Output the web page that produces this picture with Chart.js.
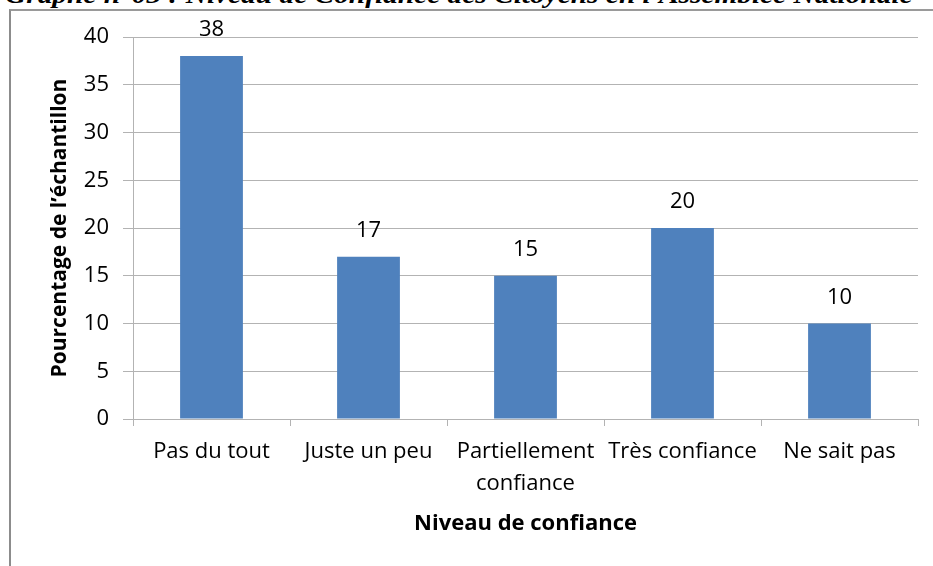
<!DOCTYPE html>
<html>
<head>
<meta charset="utf-8">
<script src="https://cdn.jsdelivr.net/npm/chart.js@4"></script>
<style>
  body { margin:0; background:#fff; width:933px; height:566px; overflow:hidden; position:relative; }
  #titre { position:absolute; left:5px; top:-19px; white-space:nowrap; transform:scaleX(1.175); transform-origin:left top;
           font: italic bold 25px "Liberation Serif", serif; color:#000; }
  #cadre { position:absolute; left:9px; top:9px; width:930px; height:570px;
           border-left:2px solid #8c8c8c; border-top:2px solid #9a9a9a; }
  #zone { position:absolute; left:0; top:0; width:933px; height:566px; }
</style>
</head>
<body>
<div id="titre">Graphe n°03 : Niveau de Confiance des Citoyens en l'Assemblée Nationale</div>
<div id="cadre"></div>
<div id="zone"><canvas id="graphe"></canvas></div>
<script>
// Données du graphique
const CATEGORIES = ['Pas du tout', 'Juste un peu', ['Partiellement', 'confiance'], 'Très confiance', 'Ne sait pas'];
const VALEURS    = [38, 17, 15, 20, 10];
const Y_MIN = 0, Y_MAX = 40, Y_PAS = 5;

const POLICE = '"Open Sans", "Liberation Sans", sans-serif';
const GRIS   = '#b3b3b3';

// Étiquettes de valeur au-dessus des barres
const etiquettes = {
  id: 'etiquettes',
  afterDatasetsDraw(chart) {
    const ctx = chart.ctx;
    const meta = chart.getDatasetMeta(0);
    ctx.save();
    ctx.font = '22px ' + POLICE;
    ctx.fillStyle = '#000';
    ctx.textAlign = 'center';
    ctx.textBaseline = 'middle';
    meta.data.forEach((bar, i) => {
      ctx.fillText(String(VALEURS[i]), bar.x, bar.y - 26);
    });
    ctx.restore();
  }
};

new Chart(document.getElementById('graphe'), {
  type: 'bar',
  data: {
    labels: CATEGORIES,
    datasets: [{ data: VALEURS, backgroundColor: '#4f81bd', barPercentage: 0.4, categoryPercentage: 1 }]
  },
  options: {
    responsive: true, maintainAspectRatio: false, animation: false,
    layout: { padding: { top: 37, right: 15, left: 11, bottom: 0 } },
    plugins: { legend: { display: false }, tooltip: { enabled: false } },
    scales: {
      x: {
        grid: { offset: true, drawOnChartArea: false, drawTicks: true, tickLength: 7, color: GRIS },
        border: { color: GRIS, width: 1 },
        ticks: { color: '#000', font: { family: POLICE, size: 22, lineHeight: 1.45 }, padding: 10, maxRotation: 0, autoSkip: false },
        title: { display: true, text: 'Niveau de confiance', color: '#000',
                 font: { family: POLICE, size: 22, weight: 'bold' }, padding: { top: 8, bottom: 29 } },
        afterFit: s => { s.height = 147; }
      },
      y: {
        min: Y_MIN, max: Y_MAX,
        grid: { color: GRIS, tickLength: 10, lineWidth: 1 },
        border: { color: GRIS, width: 1 },
        ticks: { stepSize: Y_PAS, color: '#000', font: { family: POLICE, size: 22 }, padding: 14 },
        title: { display: true, text: 'Pourcentage de l’échantillon', color: '#000',
                 font: { family: POLICE, size: 21, weight: 'bold' }, padding: { top: 36, bottom: 0 } },
        afterFit: s => { s.width = 122; }
      }
    }
  },
  plugins: [etiquettes]
});
</script>
</body>
</html>
